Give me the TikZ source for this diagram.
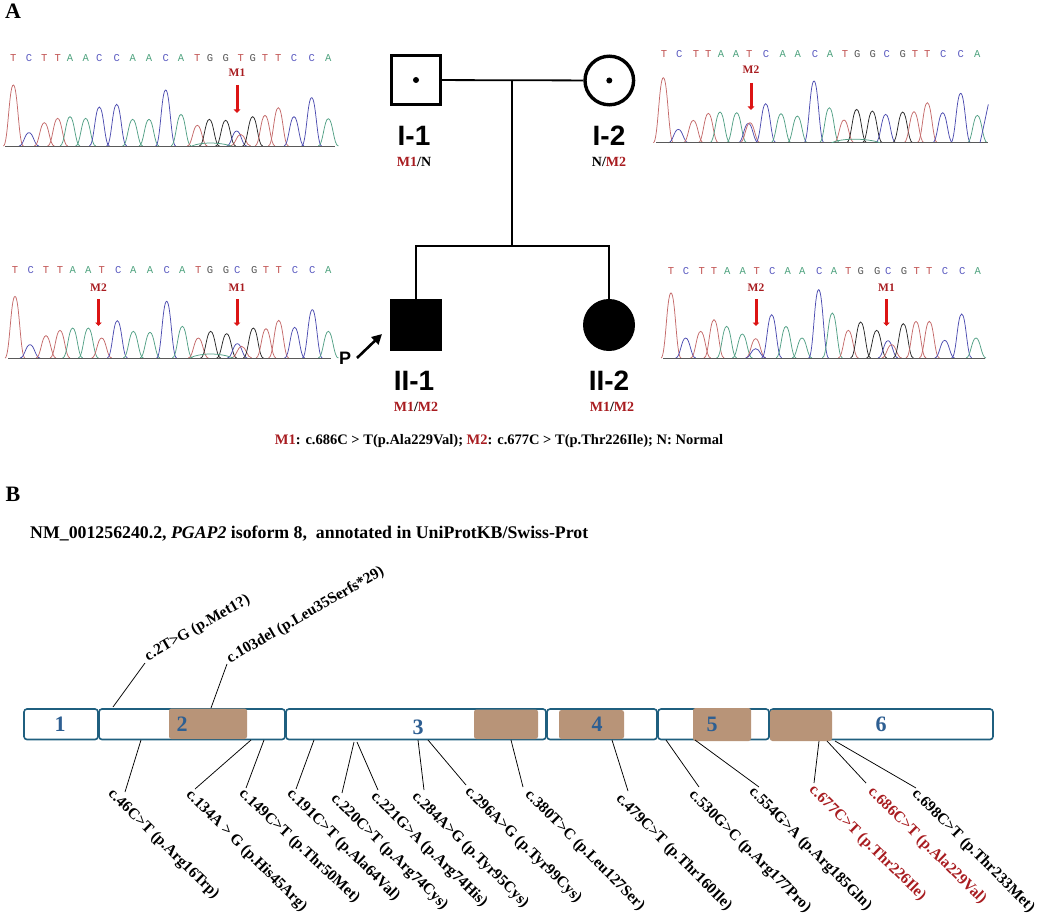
\documentclass[tikz,border=0pt]{standalone}
\usepackage{fontspec}
\setmainfont{Liberation Serif}
\newfontfamily\sansf{Liberation Sans}
\newfontfamily\monof{Liberation Mono}
\usetikzlibrary{arrows.meta}
\definecolor{pr}{HTML}{C46A6A}
\definecolor{pb}{HTML}{4C4CB0}
\definecolor{pg}{HTML}{52A085}
\definecolor{pk}{HTML}{262626}
\definecolor{lT}{HTML}{C0504F}
\definecolor{lC}{HTML}{5A5AC0}
\definecolor{lA}{HTML}{4FA37F}
\definecolor{lG}{HTML}{555555}
\definecolor{mred}{HTML}{A81C20}
\definecolor{arrred}{HTML}{DC1414}
\definecolor{exonline}{HTML}{1F5F7F}
\definecolor{exonnum}{HTML}{2E5F92}
\definecolor{domainc}{HTML}{B89478}
\tikzset{
  pedline/.style={line width=1.8pt,black},
  malebox/.style={draw=black,line width=3.4pt,rectangle,minimum size=48.6pt,inner sep=0pt},
  femalebox/.style={draw=black,line width=3.4pt,circle,minimum size=48.6pt,inner sep=0pt},
  aff/.style={fill=black},
  idlabel/.style={font=\sansf\bfseries\fontsize{28}{28}\selectfont,inner sep=0pt},
  gtlabel/.style={font=\bfseries\fontsize{14}{14}\selectfont,inner sep=0pt},
  panellabel/.style={font=\bfseries\fontsize{22}{22}\selectfont,inner sep=0pt},
  exonbox/.style={draw=exonline,line width=1.6pt,fill=white,rounded corners=3pt},
  domainbox/.style={fill=domainc,rounded corners=2.5pt},
  exonnumber/.style={font=\bfseries\fontsize{22}{22}\selectfont,text=exonnum,inner sep=0pt},
  leaderline/.style={line width=0.75pt,black},
  mutlabel/.style={font=\bfseries\fontsize{15.5}{15.5}\selectfont,inner sep=0pt,anchor=west},
  seqletter/.style={font=\monof\fontsize{10.5}{11}\selectfont,inner sep=0pt},
  arrowlabel/.style={font=\bfseries\fontsize{11.5}{11.5}\selectfont,text=mred,inner sep=0pt},
  redarrow/.style={line width=3pt,arrred,-{Triangle[length=3.5pt,width=6.5pt]}},
  traceline/.style={line width=0.75pt},
  baselinetrace/.style={line width=0.8pt,black!65}
}
% name, x offset, y offset, baseline zoom x1, x2, peaks, letter row y, letters
\newcommand{\chromat}[8]{%
  \begin{scope}[shift={(#2,#3)},x=0.33333pt,y=-0.33333pt]
    \foreach \xx/\hh/\cc in {#6}{
      \draw[traceline,draw=\cc] (\xx-30,0) .. controls (\xx-16,0) and (\xx-13,-\hh) .. (\xx,-\hh)
        .. controls (\xx+13,-\hh) and (\xx+16,0) .. (\xx+30,0);
    }
    \coordinate (#1-left) at (#4,0);
    \coordinate (#1-right) at (#5,0);
    \draw[baselinetrace] (#1-left) -- (#1-right);
    \foreach \xx/\LL in {#8}{
      \node[seqletter,text=l\LL] (#1-l\xx) at (\xx,-#7) {\LL};
    }
  \end{scope}}
% low broad hump: colour, offset x, y, x1, x2, height
\newcommand{\hump}[6]{%
  \begin{scope}[shift={(#2,#3)},x=0.33333pt,y=-0.33333pt]
    \draw[traceline,draw=#1] (#4,0) .. controls (#4+30,-#6) and (#5-40,-#6) .. (#5,0);
  \end{scope}}
% name, x, label y, arrow y1, y2, text (x,y in px)
\newcommand{\mutarrow}[6]{%
  \node[arrowlabel] (#1) at (#2,#3) {#6};
  \coordinate (#1-a) at (#2,#4);
  \coordinate (#1-b) at (#2,#5);
  \draw[redarrow] (#1-a) -- (#1-b);}
% name, exon point, label-side point, label start, angle, text, colour
\newcommand{\mut}[7]{%
  \coordinate (#1-a) at (#2);
  \coordinate (#1-b) at (#3);
  \draw[leaderline] (#1-a) -- (#1-b);
  \node[mutlabel,rotate=#5,text=#7] (#1) at (#4) {#6};}
\begin{document}
\begin{tikzpicture}[x=1pt,y=-1pt]
\useasboundingbox (0,0) rectangle (1040,920);

\node[panellabel] (panelA) at (13,11) {A};
\node[panellabel] (panelB) at (13,494) {B};

% chromatograms
\chromat{cha}{0}{146}{15}{1005}{40/183/pr,87/40/pb,133/70/pr,173/83/pr,210/88/pg,257/83/pg,298/117/pb,350/125/pb,398/80/pg,447/80/pg,497/168/pb,543/95/pg,592/62/pr,628/80/pk,677/77/pk,710/45/pb,722/35/pr,758/88/pk,795/92/pr,835/115/pr,882/88/pb,935/145/pb,985/82/pg}{264}{40/T,87/C,133/T,173/T,210/A,257/A,298/C,350/C,398/A,447/A,497/C,543/A,592/T,630/G,677/G,722/T,758/G,795/T,835/T,882/C,935/C,985/A}
\hump{pg}{0}{146}{575}{695}{12}
\chromat{chb}{0}{358}{25}{992}{45/185/pr,90/40/pb,138/67/pr,180/83/pr,218/90/pg,265/90/pg,305/60/pr,352/112/pb,400/80/pg,450/77/pg,500/170/pb,547/95/pg,595/60/pr,632/80/pk,680/73/pk,712/43/pb,725/35/pr,760/90/pk,798/88/pr,836/113/pr,884/92/pb,937/145/pb,985/80/pg}{264}{45/T,92/C,138/T,180/T,218/A,265/A,305/T,355/C,400/A,450/A,500/C,547/A,595/T,630/G,678/G,712/C,763/G,798/T,836/T,885/C,937/C,985/A}
\hump{pg}{0}{358}{570}{700}{16}
\chromat{chc}{650}{142.7}{18}{1015}{40/195/pr,85/40/pb,130/67/pr,175/88/pr,210/92/pg,260/90/pg,295/58/pb,300/60/pr,347/117/pb,393/87/pg,442/80/pg,492/185/pb,538/105/pg,582/68/pr,620/100/pk,667/95/pk,707/85/pb,758/92/pk,792/93/pr,832/120/pr,878/90/pb,932/148/pb,982/82/pg}{265}{42/T,88/C,138/T,175/T,213/A,258/A,298/T,348/C,398/A,443/A,495/C,540/A,585/T,622/G,668/G,710/C,758/G,795/T,832/T,880/C,932/C,982/A}
\hump{pg}{650}{142.7}{545}{690}{14}
\draw[traceline,draw=pb] (980,142.7) .. controls (983,130) and (986,115) .. (988.3,104.4);
\chromat{chd}{650}{358}{40}{1005}{63/195/pr,107/60/pb,152/80/pr,192/115/pr,230/95/pg,277/72/pg,317/58/pr,317/28/pb,365/130/pb,408/95/pg,456/60/pg,506/205/pb,547/135/pg,595/83/pr,632/108/pk,680/83/pk,714/52/pb,725/40/pr,760/103/pk,798/110/pr,838/110/pr,884/53/pb,935/132/pb,978/60/pg}{262}{63/T,108/C,155/T,192/T,232/A,278/A,320/T,367/C,413/A,457/A,508/C,552/A,595/T,632/G,682/G,715/C,762/G,800/T,838/T,885/C,937/C,983/A}

\mutarrow{arA}{237}{73}{85}{113}{M1}
\mutarrow{arB}{98.5}{288}{299}{326}{M2}
\mutarrow{arC}{237}{288}{299}{326}{M1}
\mutarrow{arD}{751}{70}{83}{110}{M2}
\mutarrow{arE}{756}{288}{299}{326}{M2}
\mutarrow{arF}{886.5}{288}{299}{326}{M1}

% pedigree
\node[malebox] (I1) at (416,80) {};
\node[femalebox] (I2) at (609.3,80.5) {};
\node[malebox,aff] (II1) at (416,324.5) {};
\node[femalebox,aff] (II2) at (609,325) {};
\fill (I1.center) circle (3pt);
\fill (I2.center) circle (3pt);
\coordinate (mate) at (512.3,80);
\coordinate (sib) at (512.3,246);
\draw[pedline] (I1) -- (I2);
\draw[pedline] (mate) -- (sib);
\draw[pedline] (II1.north) |- (sib) -| (II2.north);

\node[idlabel] (idI1) at (414,136) {I-1};
\node[idlabel] (idI2) at (609,136) {I-2};
\node[idlabel] (idII1) at (414,381) {II-1};
\node[idlabel] (idII2) at (609,381) {II-2};
\node[gtlabel] (gtI1) at (414,162) {\textcolor{mred}{M1}/N};
\node[gtlabel] (gtI2) at (609,162) {N/\textcolor{mred}{M2}};
\node[gtlabel] (gtII1) at (416,407) {\textcolor{mred}{M1}/\textcolor{mred}{M2}};
\node[gtlabel] (gtII2) at (612,407) {\textcolor{mred}{M1}/\textcolor{mred}{M2}};

\node[font=\sansf\bfseries\fontsize{18}{18}\selectfont,inner sep=0pt] (P) at (345,358) {P};
\coordinate (Ptail) at (357,358);
\coordinate (Ptip) at (382,334);
\draw[line width=2.6pt,black,-{Triangle[length=10pt,width=10pt]}] (Ptail) -- (Ptip);

\node[font=\bfseries\fontsize{14.5}{15}\selectfont,inner sep=0pt] (legend) at (499,441) {\textcolor{mred}{M1}: c.686C > T(p.Ala229Val); \textcolor{mred}{M2}: c.677C > T(p.Thr226Ile); N: Normal};
\node[font=\bfseries\fontsize{17.8}{18}\selectfont,inner sep=0pt,anchor=west] (title) at (30,534) {NM\_001256240.2, \textit{PGAP2} isoform 8,\ \ annotated in UniProtKB/Swiss-Prot};

% exons
\draw[exonbox] (24,709) rectangle (98,739.5);
\draw[exonbox] (99,709) rectangle (285,739.5);
\draw[exonbox] (286,709) rectangle (546,739.5);
\draw[exonbox] (547,709) rectangle (657,739.5);
\draw[exonbox] (658,709) rectangle (769,739.5);
\draw[exonbox] (770,709) rectangle (993,739.5);
\fill[domainbox] (169,708.5) rectangle (247,739);
\fill[domainbox] (474,709.5) rectangle (538,739);
\fill[domainbox] (559,710) rectangle (624,739);
\fill[domainbox] (693,708) rectangle (751,741);
\fill[domainbox] (770,710) rectangle (832,741);
\node[exonnumber] (e1) at (60,724) {1};
\node[exonnumber] (e2) at (182,724) {2};
\node[exonnumber] (e3) at (418,727) {3};
\node[exonnumber] (e4) at (597,724) {4};
\node[exonnumber] (e5) at (712,724) {5};
\node[exonnumber] (e6) at (881,724) {6};

% variants
\mut{v2}{113,707}{145,663}{146,658}{30}{c.2T>G (p.Met1?)}{black}
\mut{v103}{211,708}{227,664}{228,660}{30}{c.103del (p.Leu35Serfs*29)}{black}
\mut{v46}{141,740}{125,792}{110,792}{-44.5}{c.46C>T (p.Arg16Trp)}{black}
\mut{v134}{251,740}{195,789}{188,793}{-45}{c.134A > G (p.His45Arg)}{black}
\mut{v149}{264,740}{246,788}{241,792}{-43}{c.149C>T (p.Thr50Met)}{black}
\mut{v191}{314,740}{296,789}{289,792}{-44.5}{c.191C>T (p.Ala64Val)}{black}
\mut{v220}{354,742}{342,793}{333,797}{-44.5}{c.220C>T (p.Arg74Cys)}{black}
\mut{v221}{357,742}{378,790}{373,795}{-44.5}{c.221G>A (p.Arg74His)}{black}
\mut{v284}{418,740}{424,790}{414,795}{-44.5}{c.284A>G (p.Tyr95Cys)}{black}
\mut{v296}{428,740}{466,785}{467,790}{-44.5}{c.296A>G (p.Tyr99Cys)}{black}
\mut{v380}{511,740}{523,787}{527,793}{-45}{c.380T>C (p.Leu127Ser)}{black}
\mut{v479}{612,740}{628,791}{618,797}{-45}{c.479C>T (p.Thr160Ile)}{black}
\mut{v530}{666,740}{699,787}{691,793}{-45}{c.530G>C (p.Arg177Pro)}{black}
\mut{v554}{695,740}{759,787}{751,790}{-45}{c.554G>A (p.Arg185Gln)}{black}
\mut{v677}{819,741}{814,783}{811,788}{-44.5}{c.677C>T (p.Thr226Ile)}{mred}
\mut{v686}{827,741}{866,783}{870,790}{-44.5}{c.686C>T (p.Ala229Val)}{mred}
\mut{v698}{835,741}{916,788}{914,792}{-45}{c.698C>T (p.Thr233Met)}{black}
\end{tikzpicture}
\end{document}
